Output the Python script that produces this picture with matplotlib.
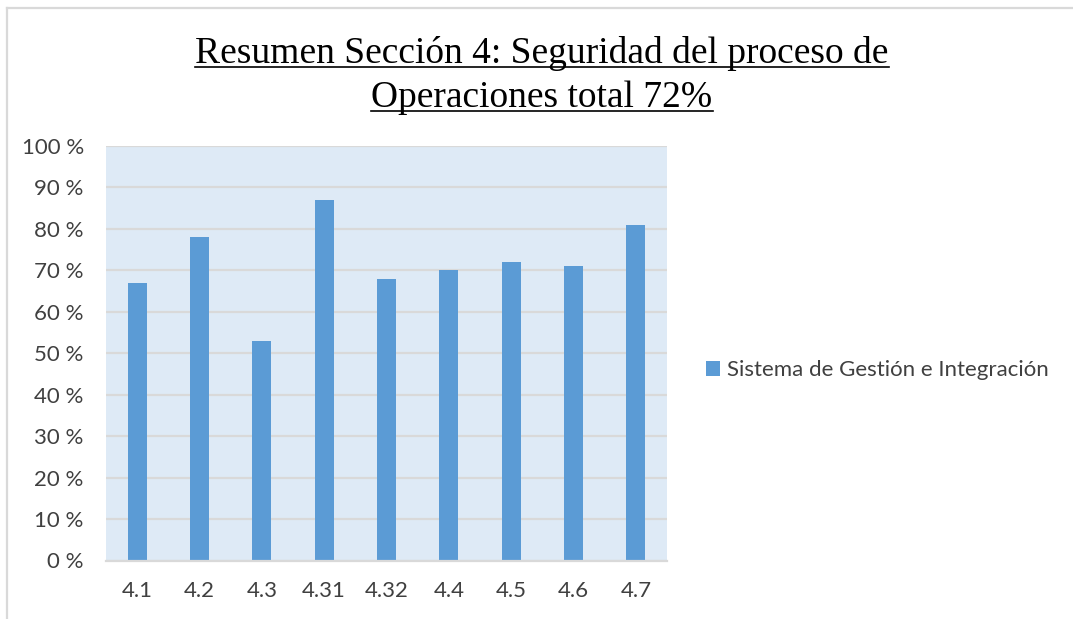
import matplotlib
matplotlib.use("Agg")
import matplotlib.pyplot as plt
from matplotlib.lines import Line2D
from matplotlib.ticker import FuncFormatter

# ---- data ----
categories = ["4.1", "4.2", "4.3", "4.31", "4.32", "4.4", "4.5", "4.6", "4.7"]
values = [67, 78, 53, 87, 68, 70, 72, 71, 81]
series_name = "Sistema de Gestión e Integración"
title_lines = ["Resumen Sección 4: Seguridad del proceso de",
               "Operaciones total 72%"]

W, H = 1073, 619
BAR = "#5B9BD5"
GRID = "#D9D9D9"
TXT = "#404040"
SANS = ["Lato", "DejaVu Sans"]
SERIF = ["Liberation Serif", "DejaVu Serif"]

fig = plt.figure(figsize=(W / 100, H / 100), dpi=100)
fig.patch.set_facecolor("white")

ax = fig.add_axes([106 / W, 1 - 560.5 / H, 561 / W, (560.5 - 146) / H])
ax.set_facecolor("#DEEAF6")

x = range(len(categories))
ax.bar(x, values, width=0.31, color=BAR, zorder=3, label=series_name)

ax.set_xlim(-0.5, len(categories) - 0.5)
ax.set_ylim(0, 100)
ax.set_yticks(range(0, 101, 10))
ax.yaxis.set_major_formatter(FuncFormatter(lambda v, p: f"{int(v)} %"))
ax.set_xticks(list(x))
ax.set_xticklabels(categories)

ax.grid(axis="y", color=GRID, linewidth=1.6, zorder=1)
ax.grid(axis="x", visible=False)
for s in ["top", "left", "right"]:
    ax.spines[s].set_visible(False)
ax.spines["bottom"].set_color(GRID)
ax.spines["bottom"].set_linewidth(1.6)
ax.spines["bottom"].set_zorder(4)

ax.tick_params(axis="both", length=0, labelsize=16, labelcolor=TXT)
ax.tick_params(axis="y", pad=16)
ax.tick_params(axis="x", pad=15)
for lab in ax.get_xticklabels() + ax.get_yticklabels():
    lab.set_family(SANS)

leg = ax.legend(loc="center left", bbox_to_anchor=(686 / W, 1 - 370 / H),
                bbox_transform=fig.transFigure, frameon=False,
                handlelength=0.65, handleheight=0.65, handletextpad=0.3,
                prop={"family": SANS, "size": 16})
for t in leg.get_texts():
    t.set_color(TXT)

# ---- title, underlined line by line ----
title_texts = []
for line, yb in zip(title_lines, [63, 107]):
    t = fig.text(542 / W, 1 - yb / H, line, ha="center", va="baseline",
                 fontsize=27, family=SERIF, color="black")
    title_texts.append((t, yb))

fig.canvas.draw()
r = fig.canvas.get_renderer()
for t, yb in title_texts:
    bb = t.get_window_extent(renderer=r)
    fig.add_artist(Line2D([bb.x0 / W, bb.x1 / W], [1 - (yb + 4) / H] * 2,
                          transform=fig.transFigure, color="black", lw=1.2))

# ---- outer frame (left and top only) ----
fig.add_artist(Line2D([7 / W, 7 / W], [0, 1 - 8 / H], transform=fig.transFigure,
                      color=GRID, lw=1.6))
fig.add_artist(Line2D([7 / W, 1], [1 - 8 / H, 1 - 8 / H], transform=fig.transFigure,
                      color=GRID, lw=1.6))

fig.savefig("out.png", dpi=100)
